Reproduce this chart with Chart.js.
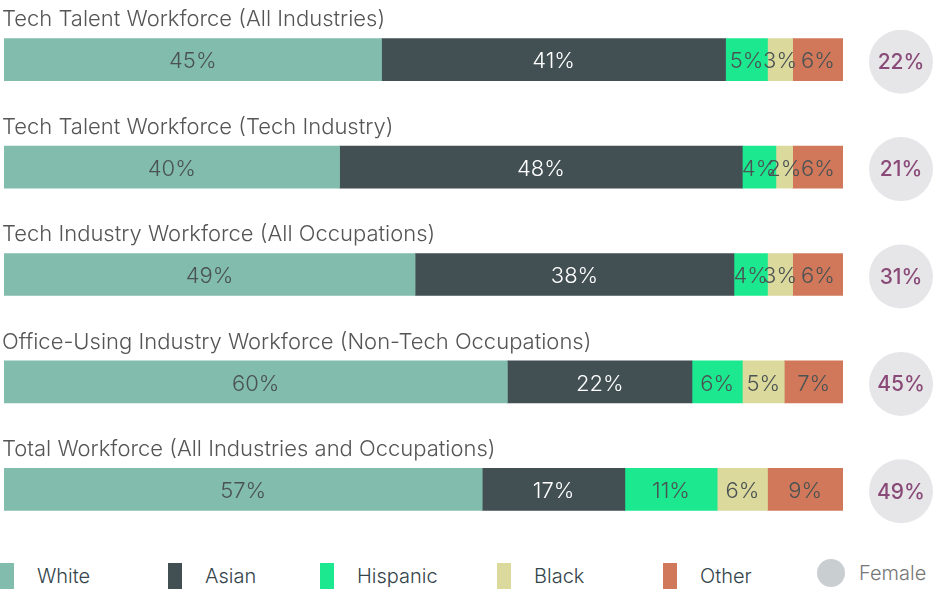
<!DOCTYPE html>
<html>
<head>
<meta charset="utf-8">
<script src="https://cdn.jsdelivr.net/npm/chart.js@4"></script>
<style>
  body { margin: 0; background: #fff; font-family: "Inter", sans-serif; }
  .wrap { position: relative; width: 944px; height: 592px; }
  #legend { position: absolute; left: 0; top: 561px; width: 944px; height: 32px; }
  .item { position: absolute; top: 0; display: flex; align-items: center; height: 30px; font-size: 20px; font-weight: 300; color: #33444a; }
  .swatch { width: 14px; height: 26px; margin-right: 23px; }
  .dot { width: 28px; height: 28px; border-radius: 50%; margin-right: 14px; }
</style>
</head>
<body>
<div class="wrap">
  <canvas id="raceChart" width="944" height="546"></canvas>
  <div id="legend"></div>
</div>
<script>
const groups = [
  "Tech Talent Workforce (All Industries)",
  "Tech Talent Workforce (Tech Industry)",
  "Tech Industry Workforce (All Occupations)",
  "Office-Using Industry Workforce (Non-Tech Occupations)",
  "Total Workforce (All Industries and Occupations)",
];
const seriesNames = ["White", "Asian", "Hispanic", "Black", "Other"];
const white = [45, 40, 49, 60, 57];
const asian = [41, 48, 38, 22, 17];
const hispanic = [5, 4, 4, 6, 11];
const black = [3, 2, 3, 5, 6];
const other = [6, 6, 6, 7, 9];
const female = [22, 21, 31, 45, 49];

const colors = ["#82bcad", "#424f53", "#1ce88f", "#dbd99c", "#d1785a"];
const labelColors = ["#4a5254", "#ffffff", "#4a5254", "#4a5254", "#4a5254"];
const legendLeft = [0, 168, 320, 497, 663, 817];

// titles above bars, value labels, female circles
const overlayPlugin = {
  id: "overlay",
  afterDatasetsDraw(chart) {
    const ctx = chart.ctx;
    const yScale = chart.scales.y;
    ctx.save();
    ctx.textBaseline = "middle";

    ctx.font = "300 22px Inter";
    ctx.fillStyle = "#555";
    ctx.textAlign = "left";
    groups.forEach((g, i) => {
      ctx.fillText(g, 2, yScale.getPixelForValue(i) - 40);
    });

    ctx.font = "300 22px Inter";
    ctx.textAlign = "center";
    chart.data.datasets.forEach((ds, di) => {
      const meta = chart.getDatasetMeta(di);
      meta.data.forEach((bar, i) => {
        const cx = (bar.x + bar.base) / 2;
        ctx.fillStyle = labelColors[di];
        ctx.fillText(ds.data[i] + "%", cx, bar.y + 2);
      });
    });

    female.forEach((v, i) => {
      const cy = yScale.getPixelForValue(i) + 2;
      ctx.beginPath();
      ctx.arc(901, cy, 32, 0, Math.PI * 2);
      ctx.fillStyle = "#e6e6e9";
      ctx.fill();
      ctx.font = "500 21px Inter";
      ctx.fillStyle = "#8a4a78";
      ctx.fillText(v + "%", 901, cy + 1);
    });
    ctx.restore();
  },
};

const ctx = document.getElementById("raceChart").getContext("2d");
const myChart = new Chart(ctx, {
  type: "bar",
  data: {
    labels: groups,
    datasets: [white, asian, hispanic, black, other].map((d, i) => ({
      label: seriesNames[i],
      data: d,
      backgroundColor: colors[i],
      borderWidth: 0,
      barThickness: 42,
    })),
  },
  options: {
    indexAxis: "y",
    responsive: false,
    animation: false,
    layout: {
      padding: { left: 4, right: 101, top: 6, bottom: 3 },
    },
    scales: {
      x: { stacked: true, min: 0, max: 100, display: false },
      y: { stacked: true, display: false },
    },
    plugins: {
      legend: { display: false },
      tooltip: { enabled: false },
    },
  },
  plugins: [overlayPlugin],
});

// legend
const legend = document.getElementById("legend");
seriesNames.forEach((name, i) => {
  const el = document.createElement("div");
  el.className = "item";
  el.style.left = legendLeft[i] + "px";
  el.innerHTML = `<span class="swatch" style="background:${colors[i]}"></span>${name}`;
  legend.appendChild(el);
});
const fem = document.createElement("div");
fem.className = "item";
fem.style.left = legendLeft[5] + "px";
fem.style.color = "#777";
fem.style.top = "-3px";
fem.innerHTML = `<span class="dot" style="background:#c9ced1"></span>Female`;
legend.appendChild(fem);
</script>
</body>
</html>
